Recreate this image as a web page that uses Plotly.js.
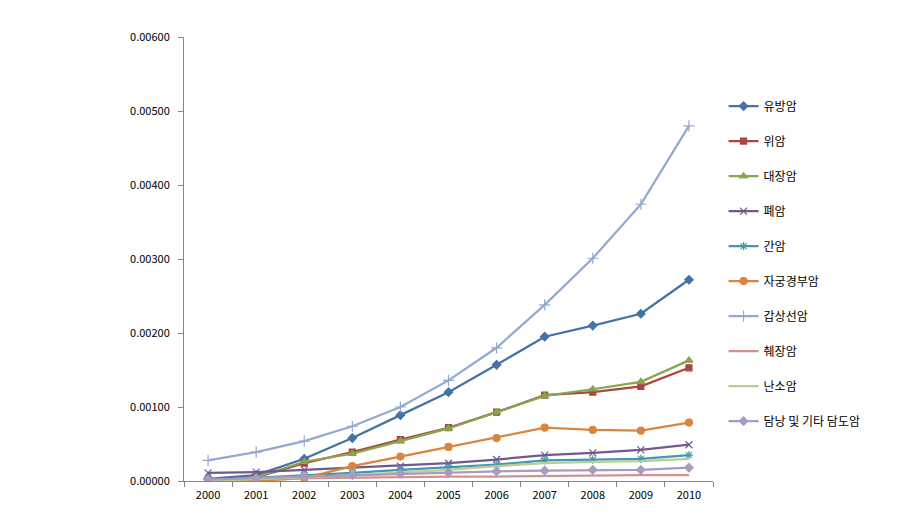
<!DOCTYPE html>
<html>
<head>
<meta charset="utf-8">
<script src="https://cdn.plot.ly/plotly-3.0.1.min.js"></script>
<style>html,body{margin:0;padding:0;background:#fff;}#chart{width:923px;height:516px;}</style>
</head>
<body>
<div id="chart"></div>
<script>
const years = ['2000','2001','2002','2003','2004','2005','2006','2007','2008','2009','2010'];
const seriesNames = ['유방암','위암','대장암','폐암','간암','자궁경부암','갑상선암','췌장암','난소암','담낭 및 기타 담도암'];
const breast   = [0.00003,0.00008,0.00030,0.00058,0.00089,0.00120,0.00157,0.00195,0.00210,0.00226,0.00272];
const stomach  = [0.00000,0.00005,0.00024,0.00039,0.00056,0.00072,0.00093,0.00116,0.00120,0.00128,0.00153];
const colon    = [0.00000,0.00005,0.00026,0.00037,0.00054,0.00071,0.00093,0.00115,0.00124,0.00134,0.00163];
const lung     = [0.00011,0.00012,0.00015,0.00018,0.00020,0.00024,0.00029,0.00035,0.00038,0.00042,0.00049];
const liver    = [0.00001,0.00004,0.00008,0.00011,0.00015,0.00018,0.00022,0.00028,0.00029,0.00030,0.00035];
const cervix   = [0.00000,0.00000,0.00004,0.00020,0.00033,0.00046,0.00058,0.00072,0.00069,0.00068,0.00079];
const thyroid  = [0.00028,0.00039,0.00054,0.00074,0.00100,0.00136,0.00180,0.00238,0.00301,0.00374,0.00480];
const pancreas = [0.00002,0.00003,0.00004,0.00005,0.00005,0.00006,0.00006,0.00007,0.00007,0.00008,0.00008];
const ovary    = [0.00000,0.00002,0.00005,0.00008,0.00011,0.00015,0.00020,0.00024,0.00026,0.00027,0.00030];
const biliary  = [0.00002,0.00004,0.00006,0.00008,0.00010,0.00011,0.00013,0.00014,0.00015,0.00015,0.00018];
const yTickVals = [0,0.001,0.002,0.003,0.004,0.005,0.006];

const allValues = [breast,stomach,colon,lung,liver,cervix,thyroid,pancreas,ovary,biliary];
const colors = ['#4572A7','#AA4643','#89A54E','#71588F','#4198AF','#DB843D','#93A9CF','#D19392','#B9CD96','#A99BBD'];
const symbols = ['diamond','square','triangle-up','x-thin-open','asterisk-open','circle','cross-thin-open','line-ew','line-ew','diamond'];
const msizes = [6.5,6,7,7,7,7,8,1,1,6.5];
const showMarker = [true,true,true,true,true,true,true,false,false,true];

const traces = allValues.map((vals,i)=>({
  x: years, y: vals, name: seriesNames[i], type:'scatter',
  mode: showMarker[i] ? 'lines+markers' : 'lines',
  legendgroup: 'g'+i,
  line:{color:colors[i], width:2.25},
  marker:{symbol:symbols[i], size:msizes[i], color:colors[i], line:{color:colors[i], width:1.2}}
}));

const font = '"Noto Sans CJK KR", "Noto Sans", sans-serif';
const layout = {
  width:923, height:516,
  margin:{l:184, r:210, t:37, b:35},
  paper_bgcolor:'#fff', plot_bgcolor:'#fff',
  font:{family:font, size:11, color:'#000'},
  showlegend:true,
  legend:{x:1.02, xanchor:'left', y:0.877, yanchor:'top', font:{family:font, size:12, color:'#000'},
          tracegroupgap:16, itemwidth:30, bgcolor:'rgba(0,0,0,0)'},
  xaxis:{type:'category', showgrid:false, zeroline:false, showline:true, linecolor:'#868686', linewidth:1,
         ticks:'outside', tickson:'boundaries', ticklen:5, tickcolor:'#868686', ticklabelstandoff:4,
         tickfont:{family:font, size:11, color:'#000'}, range:[-0.5,10.5], fixedrange:true},
  yaxis:{range:[0,0.006], tickvals:yTickVals, tickformat:'.5f', showgrid:false, zeroline:false,
         showline:true, linecolor:'#868686', linewidth:1, ticks:'outside', ticklen:5, tickcolor:'#868686',
         tickfont:{family:font, size:11, color:'#000'}, ticklabelstandoff:6}
};
Plotly.newPlot('chart', traces, layout, {displayModeBar:false, staticPlot:true});
</script>
</body>
</html>
